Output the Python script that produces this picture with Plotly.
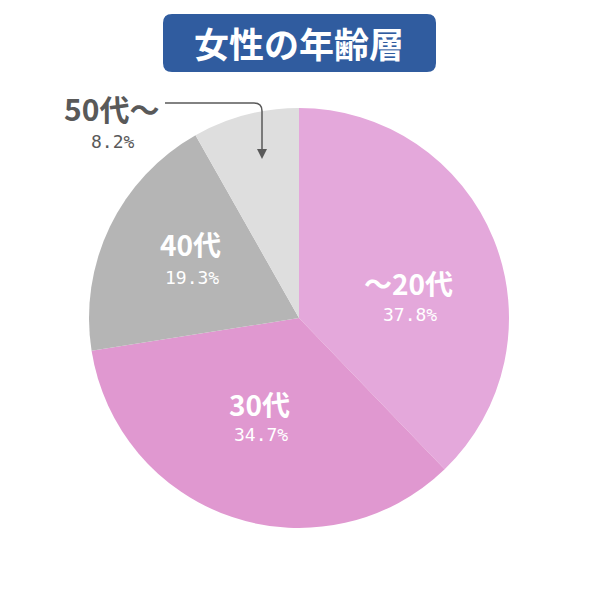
import plotly.graph_objects as go

categories = ["～20代", "30代", "40代", "50代～"]
values = [37.8, 34.7, 19.3, 8.2]
colors = ["#E4A8DB", "#E098D0", "#B5B5B5", "#DEDEDE"]
title_text = "女性の年齢層"

W = H = 600
def px(x): return x / W
def py(y): return 1 - y / H

fig = go.Figure()
fig.add_trace(go.Pie(
    labels=categories, values=values, sort=False, direction="clockwise", rotation=0,
    marker=dict(colors=colors, line=dict(width=0)),
    textinfo="none", hoverinfo="label+percent", showlegend=False,
    domain=dict(x=[px(89), px(509)], y=[py(528), py(108)]),
))

# label positions (pixel) for each category
label_pos = [(408, 283, 314), (259, 404, 434), (190, 244, 277), (111, 108, 141)]
label_colors = ["white", "white", "white", "#595959"]
label_sizes = [28, 28, 28, 30]
anns = []
for cat, v, (x, ly, pyy), c, s in zip(categories, values, label_pos, label_colors, label_sizes):
    anns.append(dict(x=px(x), y=py(ly), xref="paper", yref="paper", text=f"<b>{cat}</b>",
                     showarrow=False, font=dict(family="Noto Sans CJK JP", size=s, color=c),
                     xanchor="center", yanchor="middle"))
    anns.append(dict(x=px(x + 2), y=py(pyy), xref="paper", yref="paper", text=f"{v:.1f}%",
                     showarrow=False, font=dict(family="DejaVu Sans Mono", size=18, color=c),
                     xanchor="center", yanchor="middle"))
anns.append(dict(x=px(299), y=py(43), xref="paper", yref="paper", text=f"<b>{title_text}</b>",
                 showarrow=False, font=dict(family="Noto Sans CJK JP", size=35, color="white"),
                 xanchor="center", yanchor="middle"))

def rrect(x0, y0, x1, y1, r):
    X0, X1 = px(x0), px(x1)
    Y0, Y1 = py(y0), py(y1)
    rx, ry = r / W, r / H
    return (f"M {X0+rx},{Y0} L {X1-rx},{Y0} Q {X1},{Y0} {X1},{Y0-ry} "
            f"L {X1},{Y1+ry} Q {X1},{Y1} {X1-rx},{Y1} L {X0+rx},{Y1} "
            f"Q {X0},{Y1} {X0},{Y1+ry} L {X0},{Y0-ry} Q {X0},{Y0} {X0+rx},{Y0} Z")

shapes = [
    dict(type="path", xref="paper", yref="paper", path=rrect(163, 14, 436, 72, 9),
         fillcolor="#305C9F", line=dict(width=0)),
    dict(type="path", xref="paper", yref="paper",
         path=(f"M {px(165)},{py(103)} L {px(254)},{py(103)} Q {px(262)},{py(103)} {px(262)},{py(111)} "
               f"L {px(262)},{py(150)}"),
         line=dict(color="#595959", width=1.5)),
    dict(type="path", xref="paper", yref="paper",
         path=f"M {px(257)},{py(149)} L {px(267)},{py(149)} L {px(262)},{py(159)} Z",
         fillcolor="#595959", line=dict(width=0)),
]

fig.update_layout(width=W, height=H, margin=dict(l=0, r=0, t=0, b=0),
                  paper_bgcolor="white", plot_bgcolor="white",
                  annotations=anns, shapes=shapes)
fig.write_html("out.html", config={"displayModeBar": False},
               post_script="document.body.style.margin='0';document.body.style.overflow='hidden';")
